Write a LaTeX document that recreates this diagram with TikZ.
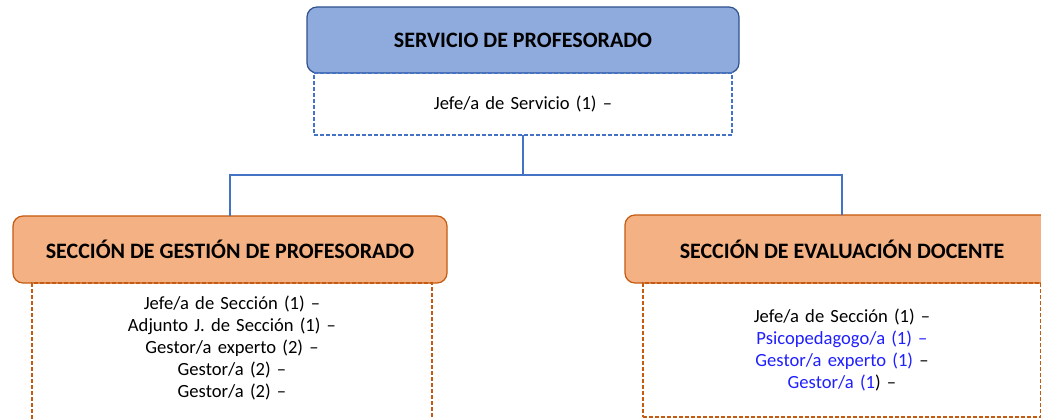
\documentclass[tikz,border=0pt]{standalone}
\usepackage{fontspec}
\setmainfont{Carlito}
\usetikzlibrary{positioning}
\definecolor{servfill}{HTML}{8FAADC}
\definecolor{servline}{HTML}{2F528F}
\definecolor{servdash}{HTML}{4472C4}
\definecolor{secfill}{HTML}{F4B183}
\definecolor{secline}{HTML}{C55A11}
\definecolor{newpost}{HTML}{1F1FFF}
\begin{document}
\begin{tikzpicture}[x=1pt,y=1pt,node distance=0pt,
      every node/.style={outer sep=0pt},
      head/.style={draw=#1line,fill=#1fill,rounded corners=10pt,line width=1.2pt,
        minimum width=432pt,minimum height=66pt,font=\fontsize{22}{26}\selectfont\bfseries},
      staff/.style={draw=#1,dash pattern=on 4pt off 2pt,line width=1.3pt,
        inner xsep=0pt,inner ysep=12pt,align=center,font=\fontsize{18.6}{22}\selectfont},
      link/.style={draw=servdash,line width=1.2pt}]
      \useasboundingbox (0,0) rectangle (1041,418);
      \clip (0,0) rectangle (1041,418);
      % servicio
      \node[head=serv] (serv) at (523,378) {SERVICIO DE PROFESORADO};
      \node[staff=servdash, text width=418pt, minimum height=62pt, below=of serv] (serv_p)
        {Jefe/a de Servicio (1) –};
      % secciones
      \node[head=sec, minimum width=434pt, minimum height=67pt] (gest) at (230,168.5)
        {SECCIÓN DE GESTIÓN DE PROFESORADO};
      \node[staff=secline, text width=400pt, text height=14pt, text depth=170pt,
        below=of gest, xshift=2pt] (gest_p)
        {Jefe/a de Sección (1) –\\ Adjunto J. de Sección (1) –\\ Gestor/a experto (2) –\\
         Gestor/a (2) –\\ Gestor/a (2) –};
      \node[head=sec, minimum width=434pt, minimum height=68pt] (eval) at (842,169)
        {SECCIÓN DE EVALUACIÓN DOCENTE};
      \node[staff=secline, text width=398pt, minimum height=134pt, below=of eval] (eval_p)
        {Jefe/a de Sección (1) –\\ \textcolor{newpost}{Psicopedagogo/a (1) –}\\
         \textcolor{newpost}{Gestor/a experto (1)} –\\ \textcolor{newpost}{Gestor/a (1}) –};
      \draw[link] (serv_p.south) -- ++(0,-40) coordinate (fork) -| (gest);
      \draw[link] (fork) -| (eval);
    \end{tikzpicture}
\end{document}
